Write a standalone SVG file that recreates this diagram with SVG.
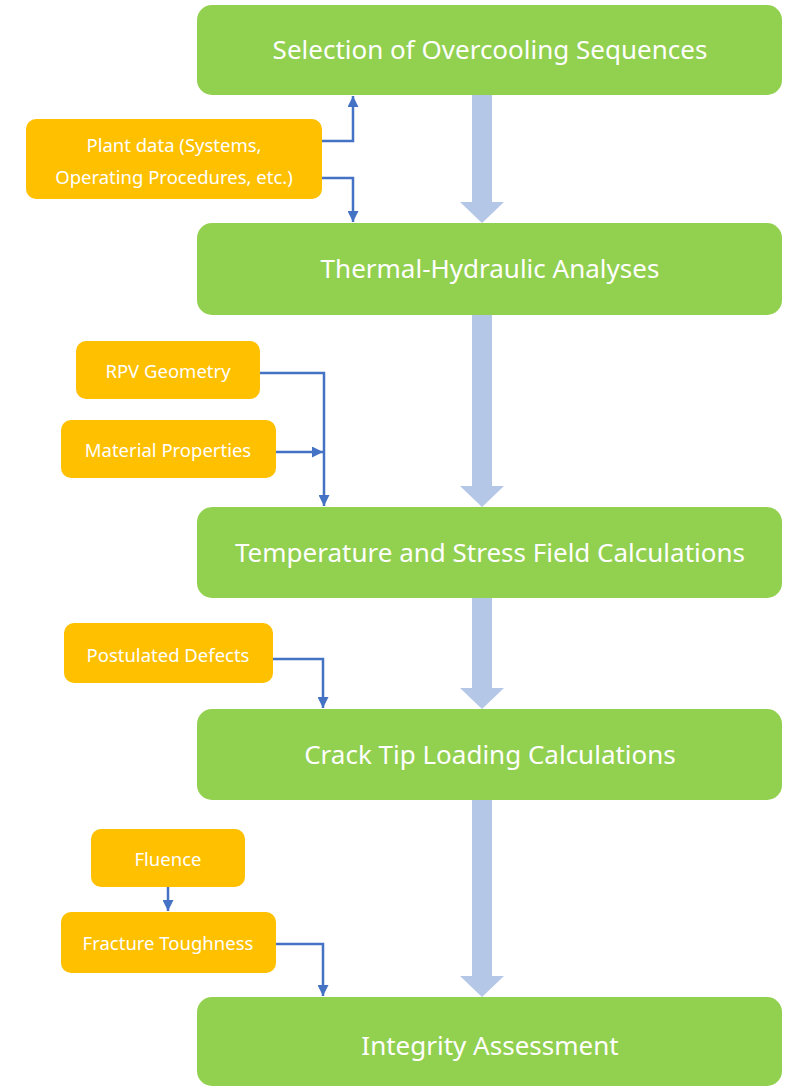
<svg xmlns="http://www.w3.org/2000/svg" width="789" height="1087" viewBox="0 0 789 1087">
<defs>
<style>
.g{fill:#92d050}
.o{fill:#ffc000}
.tg{font-family:"Noto Sans","Liberation Sans",sans-serif;font-size:26px;fill:#fff;text-anchor:middle}
.to{font-family:"Noto Sans","Liberation Sans",sans-serif;font-size:18.5px;fill:#fff;text-anchor:middle}
.big{fill:#b4c7e7}
.c{fill:none;stroke:#4472c4;stroke-width:2.5}
</style>
<marker id="ah" viewBox="0 0 10 10" refX="10" refY="5" markerWidth="4.4" markerHeight="4.4" orient="auto" markerUnits="strokeWidth">
<path d="M0,0 L10,5 L0,10 z" fill="#4472c4"/>
</marker>
</defs>
<rect width="789" height="1087" fill="#fff"/>
<g id="bigarrows">
<path class="big" d="M472,95 H492 V202 H504 L482,223 L460,202 H472 Z"/>
<path class="big" d="M472,315 H492 V486 H504 L482,507 L460,486 H472 Z"/>
<path class="big" d="M472,598 H492 V688 H504 L482,709 L460,688 H472 Z"/>
<path class="big" d="M472,800 H492 V976 H504 L482,997 L460,976 H472 Z"/>
</g>
<g id="connectors">
<path class="c" d="M322,141 H353 V96" marker-end="url(#ah)"/>
<path class="c" d="M322,178 H353 V222" marker-end="url(#ah)"/>
<path class="c" d="M260,373 H324 V506" marker-end="url(#ah)"/>
<path class="c" d="M276,452 H323" marker-end="url(#ah)"/>
<path class="c" d="M273,659 H323 V708" marker-end="url(#ah)"/>
<path class="c" d="M168,887 V911" marker-end="url(#ah)"/>
<path class="c" d="M276,944 H323 V996" marker-end="url(#ah)"/>
</g>
<g id="n1"><rect class="g" x="197" y="5" width="585" height="90" rx="15"/><text class="tg" x="490" y="59">Selection of Overcooling Sequences</text></g>
<g id="n2"><rect class="g" x="197" y="223" width="585" height="92" rx="15"/><text class="tg" x="490" y="278">Thermal-Hydraulic Analyses</text></g>
<g id="n3"><rect class="g" x="197" y="507" width="585" height="91" rx="15"/><text class="tg" x="490" y="562">Temperature and Stress Field Calculations</text></g>
<g id="n4"><rect class="g" x="197" y="709" width="585" height="91" rx="15"/><text class="tg" x="490" y="764">Crack Tip Loading Calculations</text></g>
<g id="n5"><rect class="g" x="197" y="997" width="585" height="89" rx="15"/><text class="tg" x="490" y="1055">Integrity Assessment</text></g>
<g id="p1"><rect class="o" x="26" y="119" width="296" height="80" rx="10"/><text class="to" x="174" y="152">Plant data (Systems,</text><text class="to" x="174" y="184">Operating Procedures, etc.)</text></g>
<g id="p2"><rect class="o" x="76" y="341" width="184" height="58" rx="10"/><text class="to" x="168" y="378">RPV Geometry</text></g>
<g id="p3"><rect class="o" x="61" y="420" width="215" height="58" rx="10"/><text class="to" x="168" y="457">Material Properties</text></g>
<g id="p4"><rect class="o" x="64" y="623" width="209" height="60" rx="10"/><text class="to" x="168" y="662">Postulated Defects</text></g>
<g id="p5"><rect class="o" x="91" y="829" width="154" height="58" rx="10"/><text class="to" x="168" y="866">Fluence</text></g>
<g id="p6"><rect class="o" x="61" y="912" width="215" height="61" rx="10"/><text class="to" x="168" y="950">Fracture Toughness</text></g>
</svg>
